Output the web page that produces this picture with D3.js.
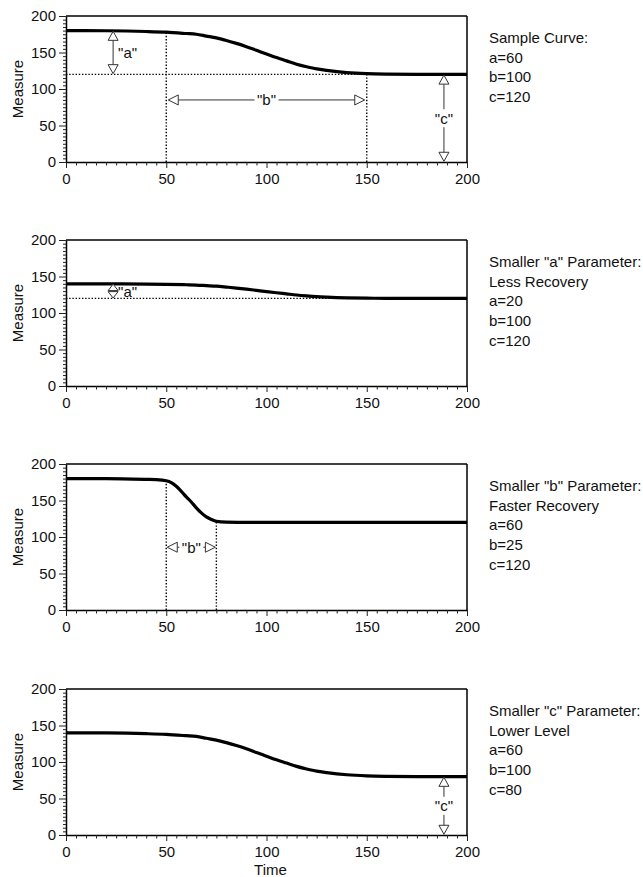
<!DOCTYPE html>
<html>
<head>
<meta charset="utf-8">
<script src="https://cdn.jsdelivr.net/npm/d3@7"></script>
<style>
  body { margin: 0; background: #fff; }
  svg { display: block; font-family: "Liberation Sans", Arial, Helvetica, sans-serif; }
  .curve { fill: none; stroke: #000; stroke-width: 3.2; }
  .dots { stroke: #000; stroke-width: 1.4; stroke-dasharray: 1.4,1.8; fill: none; }
  .arrow { stroke: #333; stroke-width: 1; fill: none; }
  .head { stroke: #333; stroke-width: 1; fill: #fff; }
</style>
</head>
<body>
<svg id="chart" width="643" height="877"></svg>
<script>
// values
const times = [0, 20, 40, 50, 60, 65, 70, 75, 80, 85, 90, 95, 100, 105, 110, 115, 120, 125, 130, 140, 150, 160, 175, 200];
const sampleCurve = [180, 179.8, 178.8, 177.8, 176, 175, 172.5, 170, 166.5, 162.5, 158, 153, 148, 143, 138.5, 134, 130.5, 127.5, 125.5, 122.5, 121, 120.4, 120.1, 120];
const smallA = [140, 139.9, 139.6, 139.3, 138.7, 138.3, 137.5, 136.7, 135.5, 134.2, 132.7, 131, 129.3, 127.7, 126.2, 124.7, 123.5, 122.5, 121.8, 120.8, 120.3, 120.1, 120, 120];
const timesB = [0, 20, 40, 45, 50, 52.5, 55, 57.5, 60, 62.5, 65, 67.5, 70, 72.5, 75, 80, 90, 100, 200];
const smallB = [180, 180, 179, 178.6, 177, 174.5, 169.5, 162.5, 155, 148, 140, 133, 127.5, 124, 121.5, 120.4, 120.1, 120, 120];
const smallC = [140, 139.8, 138.8, 137.8, 136, 135, 132.5, 130, 126.5, 122.5, 118, 113, 108, 103, 98.5, 94, 90.5, 87.5, 85.5, 82.5, 81, 80.4, 80.1, 80];

const xTicks = [0, 50, 100, 150, 200];
const yTicks = [0, 50, 100, 150, 200];

const panelText = [
  ["Sample Curve:", "a=60", "b=100", "c=120"],
  ['Smaller "a" Parameter:', "Less Recovery", "a=20", "b=100", "c=120"],
  ['Smaller "b" Parameter:', "Faster Recovery", "a=60", "b=25", "c=120"],
  ['Smaller "c" Parameter:', "Lower Level", "a=60", "b=100", "c=80"]
];

const panels = [
  { t: times, v: sampleCurve },
  { t: times, v: smallA },
  { t: timesB, v: smallB },
  { t: times, v: smallC }
];

// annotations (data coords)
const dotted = [
  [0, 0, 120, 200, 120], [0, 50, 0, 50, 177.8], [0, 150, 0, 150, 121],
  [1, 0, 120, 200, 120],
  [2, 50, 0, 50, 177], [2, 75, 0, 75, 121.5]
];
const vArrows = [
  { p: 0, t: 23.5, from: 179, to: 121, label: '"a"', side: true },
  { p: 0, t: 188.5, from: 119, to: 1, label: '"c"' },
  { p: 1, t: 23.5, from: 139.5, to: 120.5, label: '"a"', side: true },
  { p: 3, t: 188.5, from: 79, to: 1, label: '"c"' }
];
const hArrows = [
  { p: 0, y: 85, from: 51, to: 149, label: '"b"' },
  { p: 2, y: 86, from: 50.5, to: 74.5, label: '"b"' }
];

const svg = d3.select('#chart');
const left = 66, w = 401, h = 146;
const tops = [16, 240, 464, 689];

const x = d3.scaleLinear().domain([0, 200]).range([0, w]);
const y = d3.scaleLinear().domain([0, 200]).range([h, 0]);
const minor = d3.range(0, 201, 5).filter(d => d % 50 !== 0);

const line = d3.line().x(d => x(d[0])).y(d => y(d[1])).curve(d3.curveMonotoneX);

function head(g, px, py, dir, len) {
  // hollow triangle, tip at (px,py)
  const hw = 5;
  let pts;
  if (dir === 'up') pts = [[px, py], [px - hw, py + len], [px + hw, py + len]];
  if (dir === 'down') pts = [[px, py], [px - hw, py - len], [px + hw, py - len]];
  if (dir === 'left') pts = [[px, py], [px + len, py - hw], [px + len, py + hw]];
  if (dir === 'right') pts = [[px, py], [px - len, py - hw], [px - len, py + hw]];
  g.append('path').attr('class', 'head').attr('d', 'M' + pts.join('L') + 'Z');
}

panels.forEach((pn, i) => {
  const g = svg.append('g').attr('transform', `translate(${left},${tops[i]})`);

  // frame
  g.append('line').attr('x1', 0).attr('x2', w).attr('y1', 0).attr('y2', 0).attr('stroke', '#000').attr('stroke-width', 1.5);
  g.append('line').attr('x1', w).attr('x2', w).attr('y1', 0).attr('y2', h).attr('stroke', '#000').attr('stroke-width', 1.5);

  // axes
  const xa = g.append('g').attr('transform', `translate(0,${h})`)
    .call(d3.axisBottom(x).tickValues(xTicks).tickSize(6).tickSizeOuter(0).tickPadding(5));
  g.append('g').attr('transform', `translate(0,${h})`)
    .call(d3.axisBottom(x).tickValues(minor).tickSize(3.5).tickFormat('')).select('.domain').remove();
  const ya = g.append('g')
    .call(d3.axisLeft(y).tickValues(yTicks).tickSize(7).tickSizeOuter(0).tickPadding(3));
  g.append('g')
    .call(d3.axisLeft(y).tickValues(minor).tickSize(3).tickFormat('')).select('.domain').remove();
  [xa, ya].forEach(a => {
    a.select('.domain').attr('stroke-width', 1.5);
    a.selectAll('text').attr('font-size', 15).attr('fill', '#111').attr('font-family', null);
  });
  g.selectAll('.tick line').attr('stroke', '#222');

  // dotted guides
  dotted.filter(d => d[0] === i).forEach(d => {
    g.append('line').attr('class', 'dots')
      .attr('x1', x(d[1])).attr('y1', y(d[2])).attr('x2', x(d[3])).attr('y2', y(d[4]));
  });

  // curve
  g.append('path').attr('class', 'curve').datum(pn.t.map((t, k) => [t, pn.v[k]])).attr('d', line);

  // vertical arrows
  vArrows.filter(a => a.p === i).forEach(a => {
    const px = x(a.t), y1 = y(a.from), y2 = y(a.to);
    const len = Math.min(9, (y2 - y1) / 2 - 0.5);
    if (a.side) {
      g.append('line').attr('class', 'arrow').attr('x1', px).attr('x2', px).attr('y1', y1 + len).attr('y2', y2 - len);
      g.append('text').attr('x', px + 5).attr('y', (y1 + y2) / 2).attr('dy', '0.36em')
        .attr('font-size', 15).attr('fill', '#111').text(a.label);
    } else {
      const mid = (y1 + y2) / 2;
      g.append('line').attr('class', 'arrow').attr('x1', px).attr('x2', px).attr('y1', y1 + len).attr('y2', mid - 9);
      g.append('line').attr('class', 'arrow').attr('x1', px).attr('x2', px).attr('y1', mid + 9).attr('y2', y2 - len);
      g.append('text').attr('x', px).attr('y', mid).attr('dy', '0.36em').attr('text-anchor', 'middle')
        .attr('font-size', 15).attr('fill', '#111').text(a.label);
    }
    head(g, px, y1, 'up', len);
    head(g, px, y2, 'down', len);
  });

  // horizontal arrows
  hArrows.filter(a => a.p === i).forEach(a => {
    const x1 = x(a.from), x2 = x(a.to), py = y(a.y), mid = (x1 + x2) / 2;
    g.append('line').attr('class', 'arrow').attr('x1', x1 + 10).attr('x2', mid - 12).attr('y1', py).attr('y2', py);
    g.append('line').attr('class', 'arrow').attr('x1', mid + 12).attr('x2', x2 - 10).attr('y1', py).attr('y2', py);
    g.append('text').attr('x', mid).attr('y', py).attr('dy', '0.36em').attr('text-anchor', 'middle')
      .attr('font-size', 15).attr('fill', '#111').text(a.label);
    head(g, x1, py, 'left', 10);
    head(g, x2, py, 'right', 10);
  });

  // y label
  g.append('text').attr('transform', `translate(${23 - left},${h / 2}) rotate(-90)`)
    .attr('text-anchor', 'middle').attr('font-size', 15).attr('fill', '#111').text('Measure');

  // parameter notes
  g.append('g').selectAll('text').data(panelText[i]).enter().append('text')
    .attr('x', 489 - left).attr('y', (d, k) => 27 + k * 19.7)
    .attr('font-size', 15).attr('fill', '#111').text(d => d);
});

svg.append('text').attr('x', left + w / 2 + 4).attr('y', 875).attr('text-anchor', 'middle')
  .attr('font-size', 15).attr('fill', '#111').text('Time');
</script>
</body>
</html>
